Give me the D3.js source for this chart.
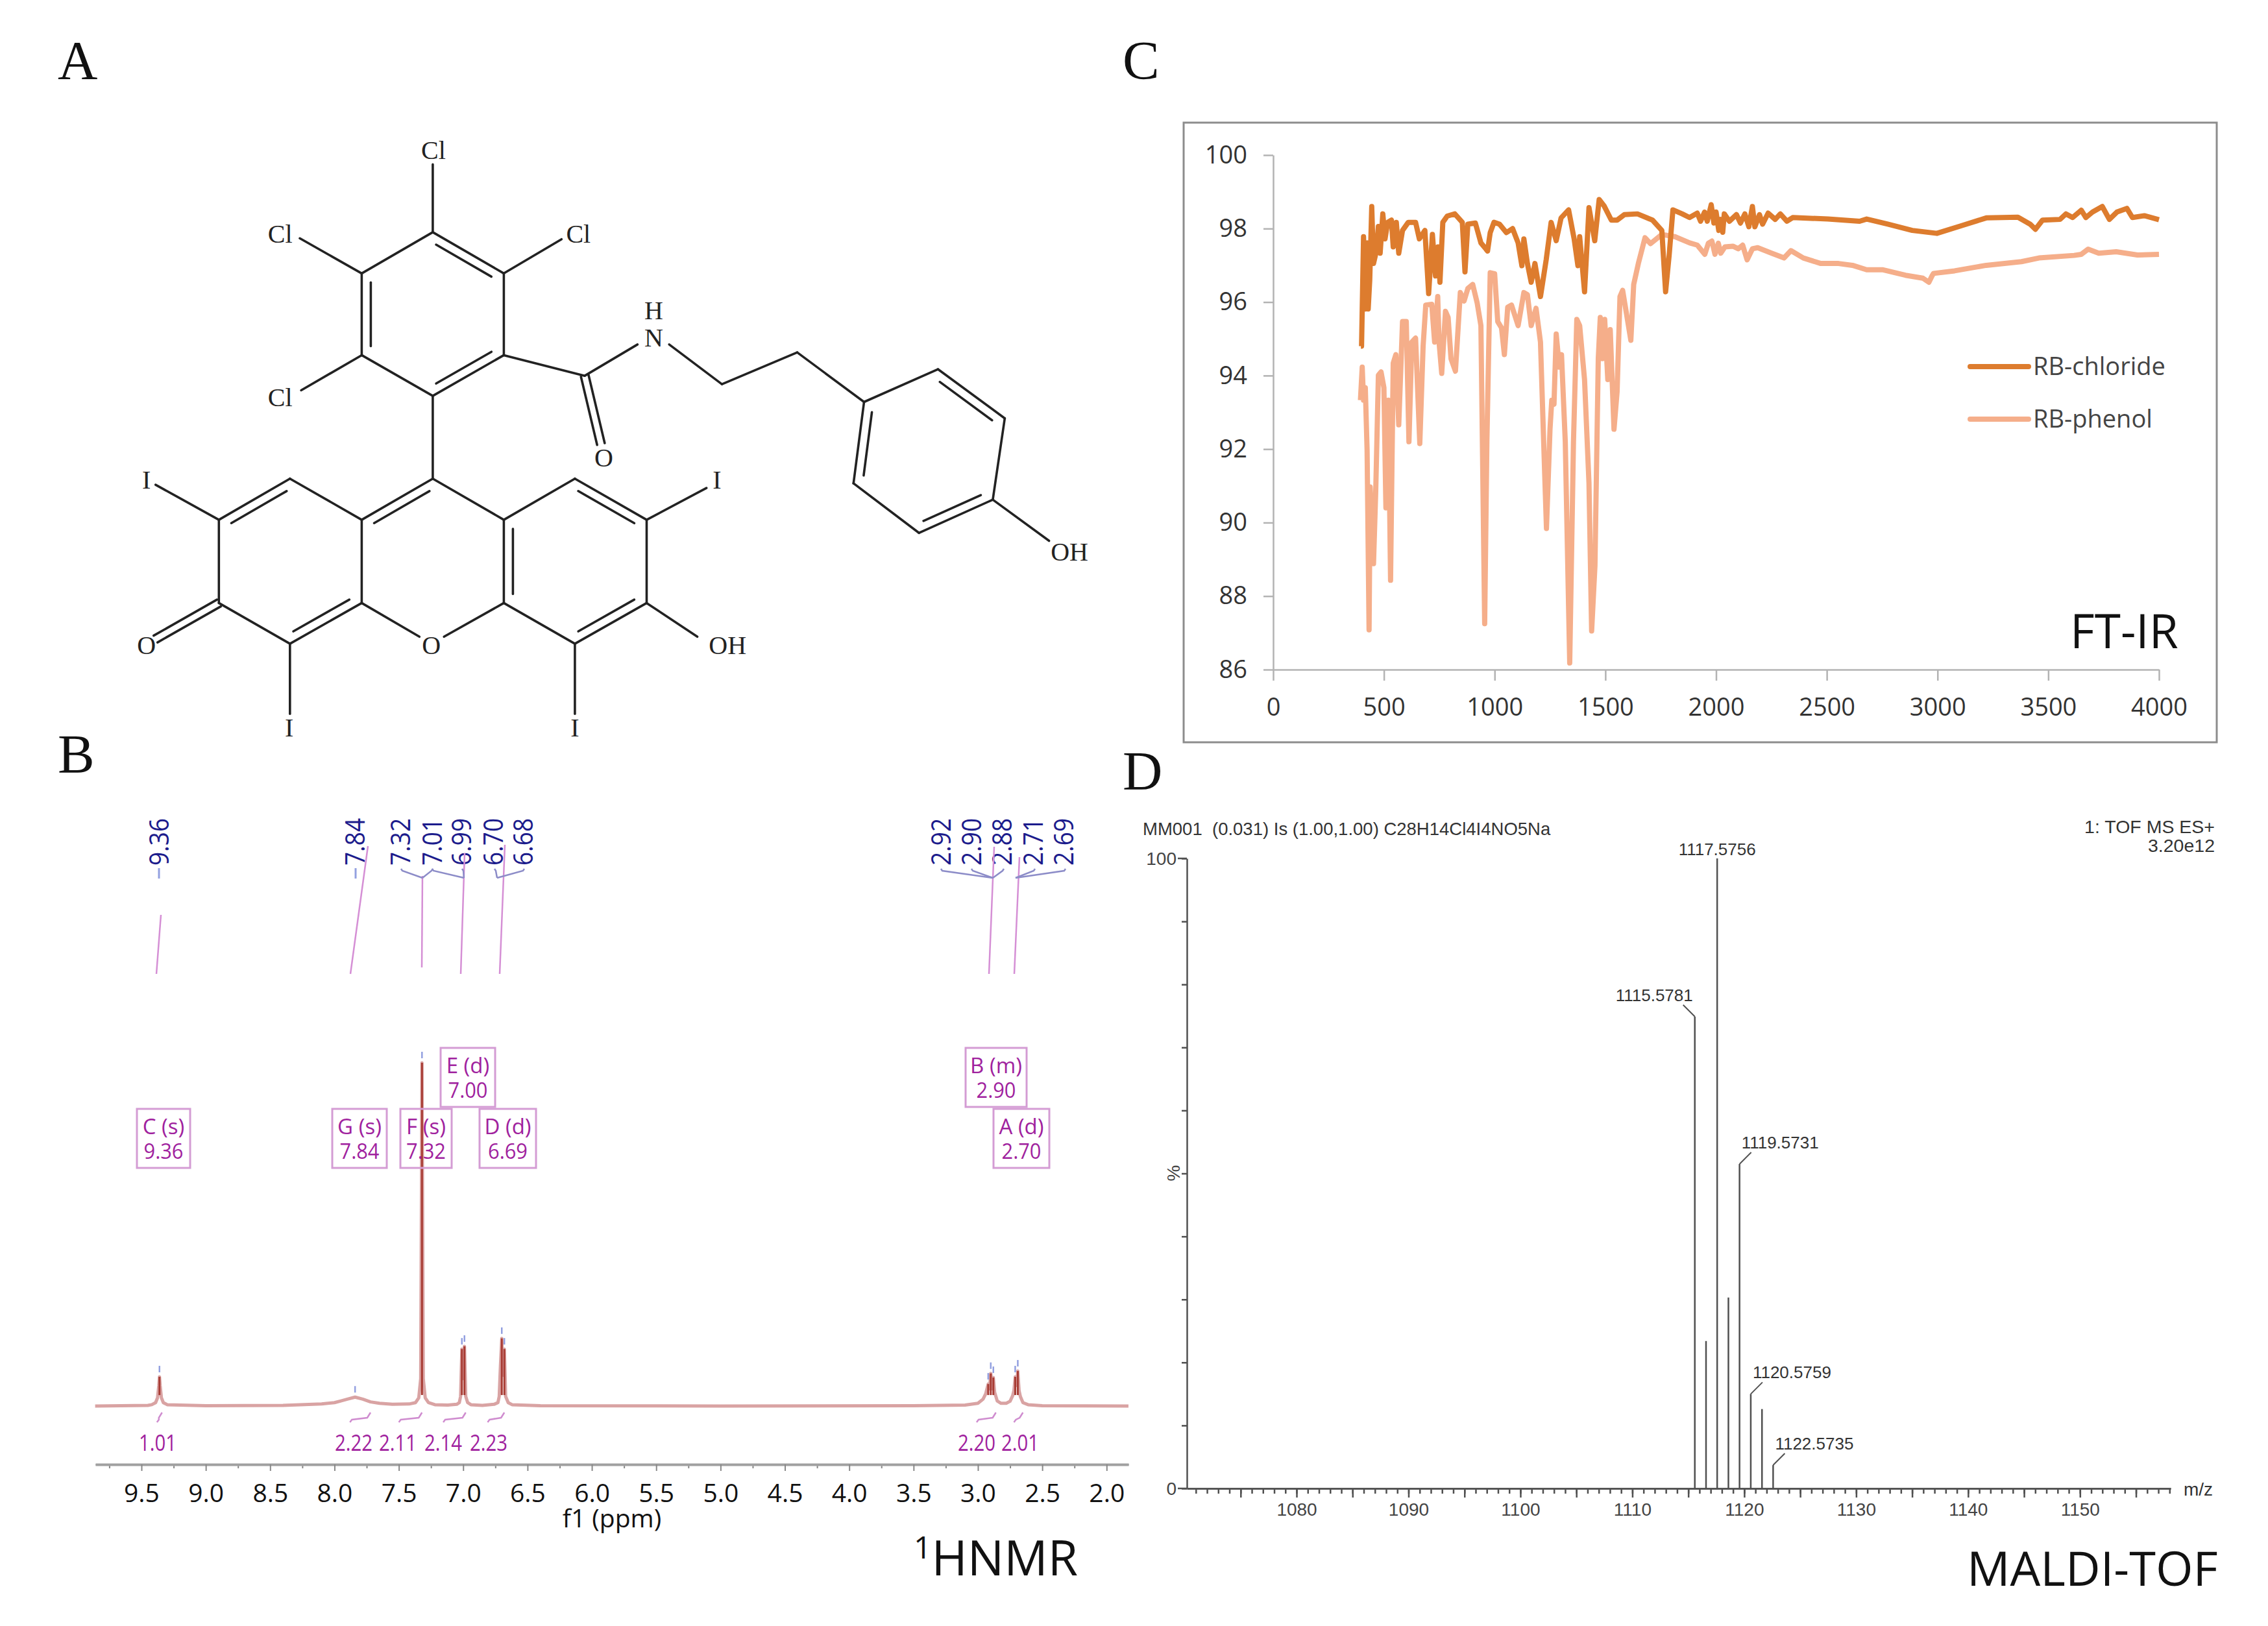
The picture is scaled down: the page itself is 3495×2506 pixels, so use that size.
<!DOCTYPE html>
<html lang="en">
<head>
<meta charset="UTF-8">
<title>RB-phenol characterisation</title>
<script src="https://cdnjs.cloudflare.com/ajax/libs/d3/7.8.5/d3.min.js"></script>
<style>
    body { margin: 0; background: #fff; }
    svg { display: block; }
    .sans { font-family: "Open Sans", sans-serif; }
    .arial { font-family: "Liberation Sans", Arial, sans-serif; }
    .serif { font-family: "Liberation Serif", "Times New Roman", serif; }
</style>
</head>
<body>
<svg id="fig" width="3495" height="2506"></svg>
<script>
// FT-IR, wavenumber / transmittance
const irPhenolX = [394,402,408,416,424,433,438,453,463,475,487,500,509,520,530,542,554,567,584,601,613,626,643,662,677,689,716,729,743,749,761,778,790,803,823,845,862,879,901,921,938,955,965,980,1000,1014,1031,1044,1059,1076,1106,1132,1148,1165,1187,1207,1234,1250,1258,1268,1278,1292,1302,1319,1339,1356,1371,1384,1406,1426,1438,1453,1468,1477,1487,1497,1511,1522,1539,1553,1566,1578,1595,1615,1628,1649,1679,1704,1755,1814,1881,1915,1949,1965,1981,1995,2010,2021,2040,2076,2100,2120,2140,2164,2188,2251,2307,2338,2394,2473,2553,2616,2680,2751,2855,2934,2961,2974,2982,3077,3220,3379,3458,3617,3649,3680,3728,3807,3903,4000];
const irPhenolY = [93.33,94.23,93.33,93.67,91.98,87.08,90.97,88.88,90.85,94.01,94.1,93.67,90.4,93.33,88.43,94.34,94.57,92.66,95.47,95.47,92.2,94.91,95.02,92.15,94.8,95.92,95.94,94.91,96.15,94.91,94.06,95.75,95.58,94.46,94.12,96.26,96.03,96.37,96.48,95.98,95.36,87.25,92.2,96.8,96.77,95.47,95.3,94.57,95.86,95.92,95.36,96.26,96.2,95.36,95.83,94.91,89.84,92.54,93.33,93.22,95.13,94.23,94.57,92.2,86.18,92.2,95.53,95.36,93.89,91.08,87.05,88.83,94.46,95.58,94.46,95.53,93.89,95.25,92.54,93.56,96.15,96.32,95.7,94.96,96.48,97.05,97.75,97.59,97.84,97.78,97.61,97.55,97.3,97.6,97.66,97.3,97.6,97.33,97.5,97.52,97.45,97.55,97.15,97.45,97.48,97.33,97.2,97.4,97.2,97.05,97.05,97,96.88,96.88,96.73,96.65,96.54,96.7,96.78,96.85,97,97.1,97.2,97.27,97.3,97.44,97.33,97.37,97.28,97.3];
const irChlorideX = [396,399,408,416,426,429,436,445,453,466,475,483,495,505,517,534,542,556,567,584,610,643,660,685,702,719,733,744,753,766,786,820,854,866,879,913,938,968,980,997,1022,1053,1081,1106,1123,1132,1148,1165,1182,1207,1233,1255,1278,1300,1334,1359,1376,1384,1406,1426,1452,1472,1494,1527,1553,1586,1645,1713,1755,1772,1788,1805,1847,1880,1915,1930,1948,1960,1978,1990,2000,2012,2021,2030,2037,2060,2092,2110,2130,2148,2164,2175,2196,2210,2235,2267,2290,2320,2346,2505,2648,2680,2775,2886,2997,3109,3220,3363,3418,3442,3474,3553,3580,3610,3649,3670,3700,3744,3776,3810,3855,3880,3934,4000];
const irChlorideY = [94.8,94.8,97.78,95.81,97.61,95.81,96.6,98.6,97.05,97.39,98.06,97.33,98.4,97.72,98.17,98.23,97.5,98.17,97.33,97.95,98.17,98.17,97.72,97.95,96.23,97.84,96.71,97.5,96.54,98.17,98.34,98.4,98.17,96.82,98.12,98.15,97.61,97.39,97.89,98.17,98.12,97.89,98,97.61,96.99,97.72,97.05,96.54,97.05,96.15,97.16,98.17,97.67,98.29,98.51,97.72,96.99,97.78,96.28,98.57,97.67,98.79,98.62,98.23,98.23,98.38,98.4,98.23,97.95,96.28,97.27,98.51,98.4,98.3,98.42,98.2,98.45,98.2,98.65,98.15,98.45,97.95,98.25,97.9,98.4,98.2,98.38,98.15,98.4,98.05,98.6,98.05,98.38,98.12,98.42,98.25,98.4,98.2,98.3,98.26,98.2,98.26,98.12,97.95,97.87,98.08,98.29,98.31,98.12,97.98,98.23,98.25,98.4,98.3,98.5,98.3,98.45,98.6,98.25,98.45,98.55,98.3,98.35,98.24];
const irTicksX = [0,500,1000,1500,2000,2500,3000,3500,4000];
const irTicksY = [86,88,90,92,94,96,98,100];
const irLegend = ["RB-chloride","RB-phenol"];

// 1H NMR trace, ppm / relative intensity
const nmrPpm = [9.86,9.45,9.42,9.39,9.375,9.365,9.36,9.355,9.345,9.33,9.30,9.0,8.4,8.1,8.0,7.95,7.9,7.84,7.78,7.72,7.65,7.55,7.42,7.37,7.345,7.33,7.32,7.31,7.295,7.27,7.22,7.12,7.05,7.03,7.02,7.015,7.01,7.0,6.99,6.985,6.98,6.965,6.94,6.85,6.76,6.73,6.72,6.71,6.70,6.69,6.68,6.675,6.67,6.65,6.62,6.4,5.0,3.5,3.1,3.0,2.96,2.94,2.93,2.92,2.91,2.90,2.89,2.88,2.87,2.85,2.82,2.78,2.75,2.73,2.72,2.71,2.70,2.69,2.68,2.67,2.65,2.61,2.5,1.83];
const nmrInt = [0,0.2,0.4,1,2.4,6,8.5,6,2.4,1,0.4,0.1,0.2,0.6,1,1.5,2,2.6,2,1.2,0.8,0.5,0.6,1,2.4,8,100,8,2.4,1,0.4,0.3,0.5,1,2.8,10,16.6,8,17.4,10,2.8,1,0.4,0.2,0.5,1,2.8,12,19.7,9,16.6,10,2.8,1,0.4,0.1,0,0.1,0.3,0.8,2,3.5,5,6.4,5,9.5,5,8.3,4,1.5,0.8,0.8,1.4,3,4.5,8.5,6,10.2,4.5,2.8,1,0.4,0.1,0];
const nmrPeaks = [9.36,7.84,7.32,7.01,6.99,6.70,6.68,2.92,2.90,2.88,2.71,2.69];
const nmrPeakTop = [8.5,2.6,100,16.6,17.4,19.7,16.6,6.4,9.5,8.3,8.5,10.2];
const nmrTicks = [9.5,9,8.5,8,7.5,7,6.5,6,5.5,5,4.5,4,3.5,3,2.5,2];
const nmrMinorTicks = [9.75,9.25,8.75,8.25,7.75,7.25,6.75,6.25,5.75,5.25,4.75,4.25,3.75,3.25,2.75,2.25];
const multipletName = ["C (s)","G (s)","F (s)","E (d)","D (d)","B (m)","A (d)"];
const multipletPpm = ["9.36","7.84","7.32","7.00","6.69","2.90","2.70"];
const integralValue = ["1.01","2.22","2.11","2.14","2.23","2.20","2.01"];
const integralFrom = [9.38,7.88,7.50,7.155,6.81,3.01,2.72];
const integralTo = [9.34,7.72,7.32,6.98,6.68,2.86,2.65];

// MALDI-TOF, m/z / intensity
const msMz = [1115.5781,1116.58,1117.5756,1118.58,1119.5731,1120.5759,1121.58,1122.5735];
const msInt = [74.9,23.4,100,30.3,51.5,15,12.6,3.7];
const msLabelled = ["1115.5781",null,"1117.5756",null,"1119.5731","1120.5759",null,"1122.5735"];
const msTicksY = [0,10,20,30,40,50,60,70,80,90,100];
const msLabelsX = [1080,1090,1100,1110,1120,1130,1140,1150];

const svg = d3.select("#fig");
svg.append("rect").attr("width", 3495).attr("height", 2506).attr("fill", "#fff");

function label(txt, x, y, size, cls, fill, anchor) {
    return svg.append("text").attr("class", cls).attr("x", x).attr("y", y)
        .attr("font-size", size).attr("fill", fill || "#111")
        .attr("text-anchor", anchor || "start").text(txt);
}

// panel letters
[["A",89,122],["B",89,1191],["C",1730,122],["D",1730,1217]].forEach(d => label(d[0], d[1], d[2], 85, "serif"));

// --- panel A, structure. Atom positions are in the drawing's own units
const molX = d3.scaleLinear().domain([0,1568]).range([50,1750]);
const molY = d3.scaleLinear().domain([0,1568]).range([30,1160]);
const atoms = {
    t1:[569,455], t2:[670,543], t3:[670,718], t4:[569,805], t5:[468,718], t6:[468,543],
    p1:[1182,818], p2:[1287,748], p3:[1382,853], p4:[1365,1027], p5:[1260,1098], p6:[1167,992],
    x9:[569,982], r1:[670,1070], r2:[771,982], r3:[873,1070], r4:[873,1248], r5:[771,1335], r6:[670,1248],
    l1:[468,1070], l2:[366,982], l3:[265,1070], l4:[265,1248], l5:[366,1335], l6:[468,1248],
    c:[785,762], o1:[808,908], n1:[860,695], n2:[905,695], ch1:[980,780], ch2:[1087,712],
    clT:[569,310], clR:[752,470], clL:[380,468], clB:[382,793],
    oh1:[1445,1115], oc1:[550,1320], oc2:[585,1320], iL:[175,995], iR:[958,1002], iB1:[366,1485], iB2:[771,1485],
    o2:[175,1325], oh2:[945,1320]
};
const ringT = [569,630], ringP = [1275,923], ringR = [771,1158], ringL = [366,1158], ringM = [569,1158];
const bonds = [
    ["t1","t2",ringT],["t2","t3"],["t3","t4",ringT],["t4","t5"],["t5","t6",ringT],["t6","t1"],
    ["p1","p2"],["p2","p3",ringP],["p3","p4"],["p4","p5",ringP],["p5","p6"],["p6","p1",ringP],
    ["t4","x9"],["x9","l1",ringM],["x9","r1"],["r1","r2"],["r2","r3",ringR],["r3","r4"],["r4","r5",ringR],["r5","r6"],["r6","r1",ringR],
    ["l1","l2"],["l2","l3",ringL],["l3","l4"],["l4","l5"],["l5","l6",ringL],["l6","l1"],
    ["t3","c"],["c","o1","both"],["c","n1"],["n2","ch1"],["ch1","ch2"],["ch2","p1"],
    ["t1","clT"],["t2","clR"],["t6","clL"],["t5","clB"],
    ["p4","oh1"],["l6","oc1"],["r6","oc2"],["l3","iL"],["r3","iR"],["l5","iB1"],["r5","iB2"],
    ["l4","o2","both"],["r4","oh2"]
];
const atomLabels = [
    ["Cl",570,280],["Cl",776,458],["Cl",352,458],["Cl",352,808],["H",883,622],["N",883,680],["O",812,938],
    ["OH",1474,1138],["O",567,1338],["I",162,985],["I",973,985],["I",365,1515],["I",771,1515],["O",162,1338],["OH",988,1338]
];
const molG = svg.append("g").attr("stroke", "#222").attr("stroke-width", 3.6).attr("stroke-linecap", "round");
function bondLine(x1, y1, x2, y2) {
    molG.append("line").attr("x1", x1).attr("y1", y1).attr("x2", x2).attr("y2", y2);
}
bonds.forEach(b => {
    const x1 = molX(atoms[b[0]][0]), y1 = molY(atoms[b[0]][1]);
    const x2 = molX(atoms[b[1]][0]), y2 = molY(atoms[b[1]][1]);
    const len = Math.hypot(x2 - x1, y2 - y1);
    const nx = -(y2 - y1) / len, ny = (x2 - x1) / len;
    if (b[2] === "both") {
        bondLine(x1 + nx * 6, y1 + ny * 6, x2 + nx * 6, y2 + ny * 6);
        bondLine(x1 - nx * 6, y1 - ny * 6, x2 - nx * 6, y2 - ny * 6);
        return;
    }
    bondLine(x1, y1, x2, y2);
    if (b[2]) {
        const cx = molX(b[2][0]), cy = molY(b[2][1]);
        const s = ((cx - x1) * nx + (cy - y1) * ny) > 0 ? 14 : -14;
        const ux = (x2 - x1) / len * 14, uy = (y2 - y1) / len * 14;
        bondLine(x1 + nx * s + ux, y1 + ny * s + uy, x2 + nx * s - ux, y2 + ny * s - uy);
    }
});
atomLabels.forEach(d => {
    label(d[0], molX(d[1]), molY(d[2]), 40, "serif", "#222", "middle").attr("dominant-baseline", "central");
});

// --- panel C, FT-IR
svg.append("rect").attr("x", 1824).attr("y", 189).attr("width", 1592).attr("height", 955)
    .attr("fill", "#fff").attr("stroke", "#8c8c8c").attr("stroke-width", 3);
const irX = d3.scaleLinear().domain([0,4000]).range([1962,3327]);
const irY = d3.scaleLinear().domain([86,100]).range([1032,239]);

function styleAxis(g, col, w, textFill, textClass, size) {
    g.select(".domain").attr("stroke", col).attr("stroke-width", w);
    g.selectAll(".tick line").attr("stroke", col).attr("stroke-width", w);
    g.selectAll(".tick text").attr("class", textClass).attr("fill", textFill).attr("font-size", size);
    g.attr("font-family", null);
}
svg.append("g").attr("transform", "translate(0,1032)")
    .call(d3.axisBottom(irX).tickValues(irTicksX).tickSize(17).tickSizeOuter(0).tickPadding(27).tickFormat(d3.format("d")))
    .call(styleAxis, "#b3b3b3", 2.5, "#333", "sans", 38);
svg.append("g").attr("transform", "translate(1962,0)")
    .call(d3.axisLeft(irY).tickValues(irTicksY).tickSize(15).tickSizeOuter(0).tickPadding(25))
    .call(styleAxis, "#b3b3b3", 2.5, "#333", "sans", 38);

const irLine = d3.line().x(d => irX(d[0])).y(d => irY(d[1]));
const irColors = ["#dd7c2e", "#f5ae8a"];
svg.append("path").datum(d3.zip(irPhenolX, irPhenolY)).attr("d", irLine)
    .attr("fill", "none").attr("stroke", irColors[1]).attr("stroke-width", 8).attr("stroke-linejoin", "round");
svg.append("path").datum(d3.zip(irChlorideX, irChlorideY)).attr("d", irLine)
    .attr("fill", "none").attr("stroke", irColors[0]).attr("stroke-width", 8).attr("stroke-linejoin", "round");
irLegend.forEach((name, i) => {
    const y = 565 + i * 81;
    svg.append("line").attr("x1", 3036).attr("x2", 3126).attr("y1", y).attr("y2", y)
        .attr("stroke", irColors[i]).attr("stroke-width", 8).attr("stroke-linecap", "round");
    label(name, 3133, y + 13, 38, "sans", "#444");
});
label("FT-IR", 3190, 999, 73, "sans");

// --- panel B, 1H NMR
const nmrX = d3.scaleLinear().domain([9.5,2]).range([218,1705.25]);
const nmrY = d3.scaleLinear().domain([0,100]).range([2167,1638]);
const nmrPurple = "#a0229e", nmrPink = "#cf8ccf", nmrBlue = "#93a0e0", nmrNavy = "#1c1c8c";

const axisNmrScale = nmrX.copy().domain([9.858,1.83]).range([147,1739]);
svg.append("g").attr("transform", "translate(0,2257)")
    .call(d3.axisBottom(axisNmrScale).tickValues(nmrMinorTicks).tickSize(6).tickSizeOuter(0).tickFormat(""))
    .call(styleAxis, "#888", 2, "#111", "sans", 39);
svg.append("g").attr("transform", "translate(0,2257)")
    .call(d3.axisBottom(axisNmrScale).tickValues(nmrTicks).tickSize(10).tickSizeOuter(0).tickPadding(20).tickFormat(d3.format(".1f")))
    .call(styleAxis, "#888", 2, "#111", "sans", 39)
    .select(".domain").attr("stroke", "#a0a0a0").attr("stroke-width", 4);
label("f1 (ppm)", 943, 2354, 39, "sans", "#111", "middle");

svg.append("path").datum(d3.zip(nmrPpm, nmrInt))
    .attr("d", d3.line().x(d => nmrX(d[0])).y(d => nmrY(d[1])))
    .attr("fill", "none").attr("stroke", "#d9a3a3").attr("stroke-width", 5).attr("stroke-linejoin", "round");
svg.selectAll(".stem").data(d3.zip(nmrPeaks, nmrPeakTop)).join("line")
    .attr("x1", d => nmrX(d[0])).attr("x2", d => nmrX(d[0]))
    .attr("y1", d => nmrY(d[1])).attr("y2", d => nmrY(Math.min(d[1], 3.2)))
    .attr("stroke", "#a83c34").attr("stroke-width", 3);
svg.selectAll(".pick").data(d3.zip(nmrPeaks, nmrPeakTop)).join("line")
    .attr("x1", d => nmrX(d[0])).attr("x2", d => nmrX(d[0]))
    .attr("y1", d => nmrY(d[1]) - 7).attr("y2", d => nmrY(d[1]) - 17)
    .attr("stroke", nmrBlue).attr("stroke-width", 2.5);

// picked-peak list across the top, with its connector lines
const pickText = ["9.36","7.84","7.32","7.01","6.99","6.70","6.68","2.92","2.90","2.88","2.71","2.69"];
const pickTextX = [243,545,615,664,709,758,804,1448,1495,1542,1590,1637];
pickText.forEach((t, i) => {
    svg.append("text").attr("class", "sans").attr("font-size", 42).attr("fill", nmrNavy)
        .attr("textLength", 73).attr("lengthAdjust", "spacingAndGlyphs")
        .attr("text-anchor", "start").attr("dominant-baseline", "central")
        .attr("transform", `translate(${pickTextX[i]},1334) rotate(-90)`).text(t);
});
[[248,1410,241,1501],[567,1304,540,1501],[651,1350,650,1491],[716,1315,710,1501],[778,1302,770,1501],[1532,1305,1524,1501],[1571,1321,1563,1501]]
    .forEach(d => svg.append("line").attr("x1", d[0]).attr("y1", d[1]).attr("x2", d[2]).attr("y2", d[3])
        .attr("stroke", "#d58fd5").attr("stroke-width", 2.5));
svg.append("line").attr("x1", 245).attr("x2", 245).attr("y1", 1338).attr("y2", 1354).attr("stroke", nmrBlue).attr("stroke-width", 3);
svg.append("line").attr("x1", 548).attr("x2", 548).attr("y1", 1338).attr("y2", 1354).attr("stroke", nmrBlue).attr("stroke-width", 3);
[[618,651],[667,651],[666,715],[712,715],[762,766],[808,766],[1450,1530],[1497,1530],[1547,1530],[1595,1565],[1642,1565]].forEach(d => {
    svg.append("path").attr("d", `M${d[0]},1339 L${d[0] + (d[1] > d[0] ? 2 : -2)},1342 L${d[1]},1353`)
        .attr("fill", "none").attr("stroke", "#8c8cc8").attr("stroke-width", 2.5);
});

// multiplet boxes
const boxLeft = [211,512,617,679,739,1488,1531];
const boxRight = [293,596,696,763,826,1582,1617];
const boxTop = [1709,1709,1709,1615,1709,1615,1709];
multipletName.forEach((n, i) => {
    svg.append("rect").attr("x", boxLeft[i]).attr("y", boxTop[i])
        .attr("width", boxRight[i] - boxLeft[i]).attr("height", 91)
        .attr("fill", "none").attr("stroke", "#d49cd4").attr("stroke-width", 3);
    const cx = (boxLeft[i] + boxRight[i]) / 2;
    label(n, cx, boxTop[i] + 39, 33, "sans", nmrPurple, "middle");
    label(multipletPpm[i], cx, boxTop[i] + 77, 33, "sans", nmrPurple, "middle")
        .attr("textLength", 61).attr("lengthAdjust", "spacingAndGlyphs");
});

// integrals under the trace
const integralTextX = [243,545,613,683,753,1505,1572];
integralValue.forEach((v, i) => {
    const a = nmrX(integralFrom[i]), b = nmrX(integralTo[i]);
    svg.append("path").attr("d", `M${a},2192 L${a + 3},2188 L${b - 5},2185 L${b},2177`)
        .attr("fill", "none").attr("stroke", nmrPink).attr("stroke-width", 2.5);
    label(v, integralTextX[i], 2236, 35, "sans", nmrPurple, "middle")
        .attr("textLength", 58).attr("lengthAdjust", "spacingAndGlyphs");
});
svg.append("text").attr("class", "sans").attr("x", 1408).attr("y", 2428).attr("font-size", 75).attr("fill", "#111")
    .call(t => {
        t.append("tspan").attr("font-size", 48).attr("dy", -26).text("1");
        t.append("tspan").attr("dy", 26).text("HNMR");
    });

// --- panel D, MALDI-TOF
const msX = d3.scaleLinear().domain([1080,1150]).range([1998,3205.5]);
const msY = d3.scaleLinear().domain([0,100]).range([2294,1323]);
const msGrey = "#505050";
const axisEnd = msX.copy().domain([1070.2,1158.1]).range([1829,3345]);

svg.append("g").attr("transform", "translate(0,2294)")
    .call(d3.axisBottom(axisEnd).tickValues(d3.range(1071,1159)).tickSize(8).tickSizeOuter(0).tickFormat(""))
    .call(styleAxis, msGrey, 2.5, "#444", "arial", 28);
svg.append("g").attr("transform", "translate(0,2294)")
    .call(d3.axisBottom(axisEnd).tickValues(d3.range(1075,1156,5)).tickSize(14).tickSizeOuter(0).tickPadding(8)
        .tickFormat(d => msLabelsX.includes(d) ? d : ""))
    .call(styleAxis, msGrey, 2.5, "#444", "arial", 28);
svg.append("g").attr("transform", "translate(1829,0)")
    .call(d3.axisLeft(msY).tickValues(msTicksY).tickSize(8).tickSizeOuter(0).tickFormat(""))
    .call(styleAxis, msGrey, 2.5, "#444", "arial", 28);
[[0,"0"],[100,"100"]].forEach(d => {
    svg.append("line").attr("x1", 1815).attr("x2", 1829).attr("y1", msY(d[0])).attr("y2", msY(d[0]))
        .attr("stroke", msGrey).attr("stroke-width", 2.5);
    label(d[1], 1813, msY(d[0]), 28, "arial", "#444", "end").attr("dominant-baseline", "central");
});
svg.append("text").attr("class", "arial").attr("font-size", 28).attr("fill", "#444")
    .attr("text-anchor", "middle").attr("dominant-baseline", "central")
    .attr("transform", "translate(1808,1808) rotate(-90)").text("%");

svg.selectAll(".ms-peak").data(d3.zip(msMz, msInt)).join("line")
    .attr("x1", d => msX(d[0])).attr("x2", d => msX(d[0]))
    .attr("y1", msY(0)).attr("y2", d => msY(d[1]))
    .attr("stroke", msGrey).attr("stroke-width", 2.5);
msLabelled.forEach((t, i) => {
    if (!t) return;
    const px = msX(msMz[i]), py = msY(msInt[i]);
    if (t === "1117.5756") {
        label(t, px, py - 5, 26, "arial", "#333", "middle");
        return;
    }
    const dir = i === 0 ? -1 : 1;
    svg.append("line").attr("x1", px).attr("y1", py).attr("x2", px + dir * 18).attr("y2", py - 18)
        .attr("stroke", msGrey).attr("stroke-width", 2);
    label(t, px + dir * 3, py - 24, 26, "arial", "#333", dir < 0 ? "end" : "start");
});
label("MM001  (0.031) Is (1.00,1.00) C28H14Cl4I4NO5Na", 1761, 1287, 27.5, "arial", "#333").attr("xml:space", "preserve");
label("1: TOF MS ES+", 3413, 1284, 28.5, "arial", "#333", "end");
label("3.20e12", 3413, 1313, 28.5, "arial", "#333", "end");
label("m/z", 3365, 2305, 28, "arial", "#333");
label("MALDI-TOF", 3031, 2444, 74, "sans");
</script>
</body>
</html>
